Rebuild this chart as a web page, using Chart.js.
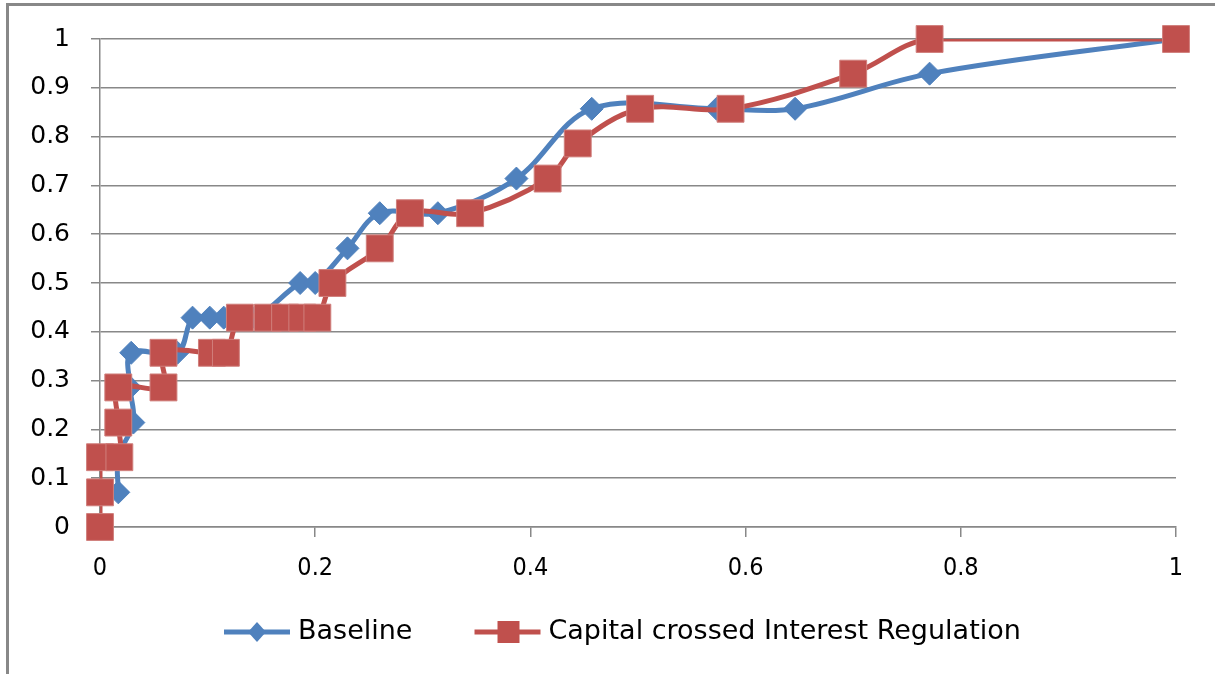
<!DOCTYPE html>
<html>
<head>
<meta charset="utf-8">
<script src="https://cdn.jsdelivr.net/npm/chart.js@4"></script>
<style>
  body { margin: 0; background: #fff; overflow: hidden; }
  #frame { position: absolute; left: 6px; top: 3px; width: 1400px; height: 900px; border: 3px solid #888; }
  #wrap { position: absolute; left: 0; top: 0; width: 1215px; height: 674px; }
</style>
</head>
<body>
<div id="frame"></div>
<div id="wrap"><canvas id="lineChart"></canvas></div>
<script>
// Baseline series (blue diamonds)
var baselineX = [0.017, 0.017, 0.031, 0.028, 0.029, 0.072, 0.086, 0.102, 0.115, 0.144, 0.186, 0.200, 0.230, 0.260, 0.314, 0.387, 0.457, 0.573, 0.646, 0.771, 1.0];
var baselineY = [0.071, 0.143, 0.214, 0.286, 0.357, 0.357, 0.429, 0.429, 0.429, 0.429, 0.5, 0.5, 0.571, 0.643, 0.643, 0.714, 0.857, 0.857, 0.857, 0.929, 1.0];

// Capital crossed Interest Regulation series (red squares)
var capitalX = [0, 0, 0, 0.018, 0.017, 0.017, 0.059, 0.059, 0.104, 0.117, 0.130, 0.156, 0.172, 0.188, 0.202, 0.216, 0.260, 0.288, 0.344, 0.416, 0.444, 0.502, 0.586, 0.700, 0.771, 1.0];
var capitalY = [0, 0.071, 0.143, 0.143, 0.214, 0.286, 0.286, 0.357, 0.357, 0.357, 0.429, 0.429, 0.429, 0.429, 0.429, 0.5, 0.571, 0.643, 0.643, 0.714, 0.786, 0.857, 0.857, 0.929, 1.0, 1.0];

var seriesNames = ['Baseline', 'Capital crossed Interest Regulation'];

var blue = '#4F81BD';
var red = '#C0504D';

function toPoints(xs, ys) {
    return xs.map(function (x, i) { return { x: x, y: ys[i] }; });
}

// legend swatch: short line with the marker in the middle
function swatch(color, shape) {
    var c = document.createElement('canvas');
    c.width = 70; c.height = 30;
    var g = c.getContext('2d');
    g.strokeStyle = color;
    g.lineWidth = 5;
    g.beginPath(); g.moveTo(2, 15); g.lineTo(68, 15); g.stroke();
    g.fillStyle = color;
    if (shape === 'diamond') {
        g.beginPath();
        g.moveTo(35, 5); g.lineTo(44, 15); g.lineTo(35, 25); g.lineTo(26, 15);
        g.closePath(); g.fill();
    } else {
        g.fillRect(25, 4, 22, 22);
    }
    return c;
}
var swatches = [swatch(blue, 'diamond'), swatch(red, 'square')];

// legend drawn under the plot, line + marker then the name
var bottomLegend = {
    id: 'bottomLegend',
    afterDraw: function (chart) {
        var c = chart.ctx;
        var x = 222, y = 632;
        c.save();
        c.font = '27px "DejaVu Sans"';
        c.fillStyle = '#000';
        c.textBaseline = 'middle';
        seriesNames.forEach(function (name, i) {
            c.drawImage(swatches[i], x, y - 15);
            x += 76;
            c.fillText(name, x, y);
            x += c.measureText(name).width + 60;
        });
        c.restore();
    }
};

function tickText(v) { return String(Math.round(v * 10) / 10); }

var lineBase = {
    showLine: true,
    tension: 0.35,
    borderWidth: 5,
    pointRadius: 0,
    clip: 0
};
var markBase = {
    showLine: false,
    pointBorderWidth: 1,
    clip: false
};

var ctx = document.getElementById('lineChart').getContext('2d');
var myChart = new Chart(ctx, {
    type: 'scatter',
    data: {
        datasets: [
            Object.assign({}, lineBase, {
                label: seriesNames[0],
                data: toPoints(baselineX, baselineY),
                borderColor: blue,
                backgroundColor: blue,
                order: 3
            }),
            Object.assign({}, markBase, {
                label: seriesNames[0],
                data: toPoints(baselineX, baselineY),
                pointStyle: 'rectRot',
                pointRadius: 11.5,
                pointBorderColor: blue,
                pointBackgroundColor: blue,
                order: 2
            }),
            Object.assign({}, lineBase, {
                label: seriesNames[1],
                data: toPoints(capitalX, capitalY),
                borderColor: red,
                backgroundColor: red,
                order: 1
            }),
            Object.assign({}, markBase, {
                label: seriesNames[1],
                data: toPoints(capitalX, capitalY),
                pointStyle: 'rect',
                pointRadius: 19,
                pointBorderColor: '#D07F7C',
                pointBackgroundColor: red,
                order: 0
            })
        ]
    },
    options: {
        responsive: true,
        maintainAspectRatio: false,
        animation: false,
        layout: { padding: { left: 0, right: 39, top: 39, bottom: 67 } },
        plugins: {
            tooltip: { enabled: false },
            legend: { display: false }
        },
        scales: {
            x: {
                type: 'linear',
                min: 0,
                max: 1,
                afterFit: function (scale) { scale.height = 80; },
                ticks: { stepSize: 0.2, color: '#000', font: { family: 'DejaVu Sans Condensed', size: 25 }, padding: 16, maxRotation: 0, callback: tickText },
                grid: { drawOnChartArea: false, drawTicks: true, tickLength: 10, color: '#888', lineWidth: 1.5 },
                border: { color: '#888', width: 1.5 }
            },
            y: {
                min: 0,
                max: 1,
                afterFit: function (scale) { scale.width = 100; },
                ticks: { stepSize: 0.1, color: '#000', font: { family: 'DejaVu Sans', size: 25 }, padding: 21, callback: tickText },
                grid: { color: '#888', lineWidth: 1.5, tickLength: 9 },
                border: { color: '#888', width: 1.5 }
            }
        }
    },
    plugins: [bottomLegend]
});
</script>
</body>
</html>
